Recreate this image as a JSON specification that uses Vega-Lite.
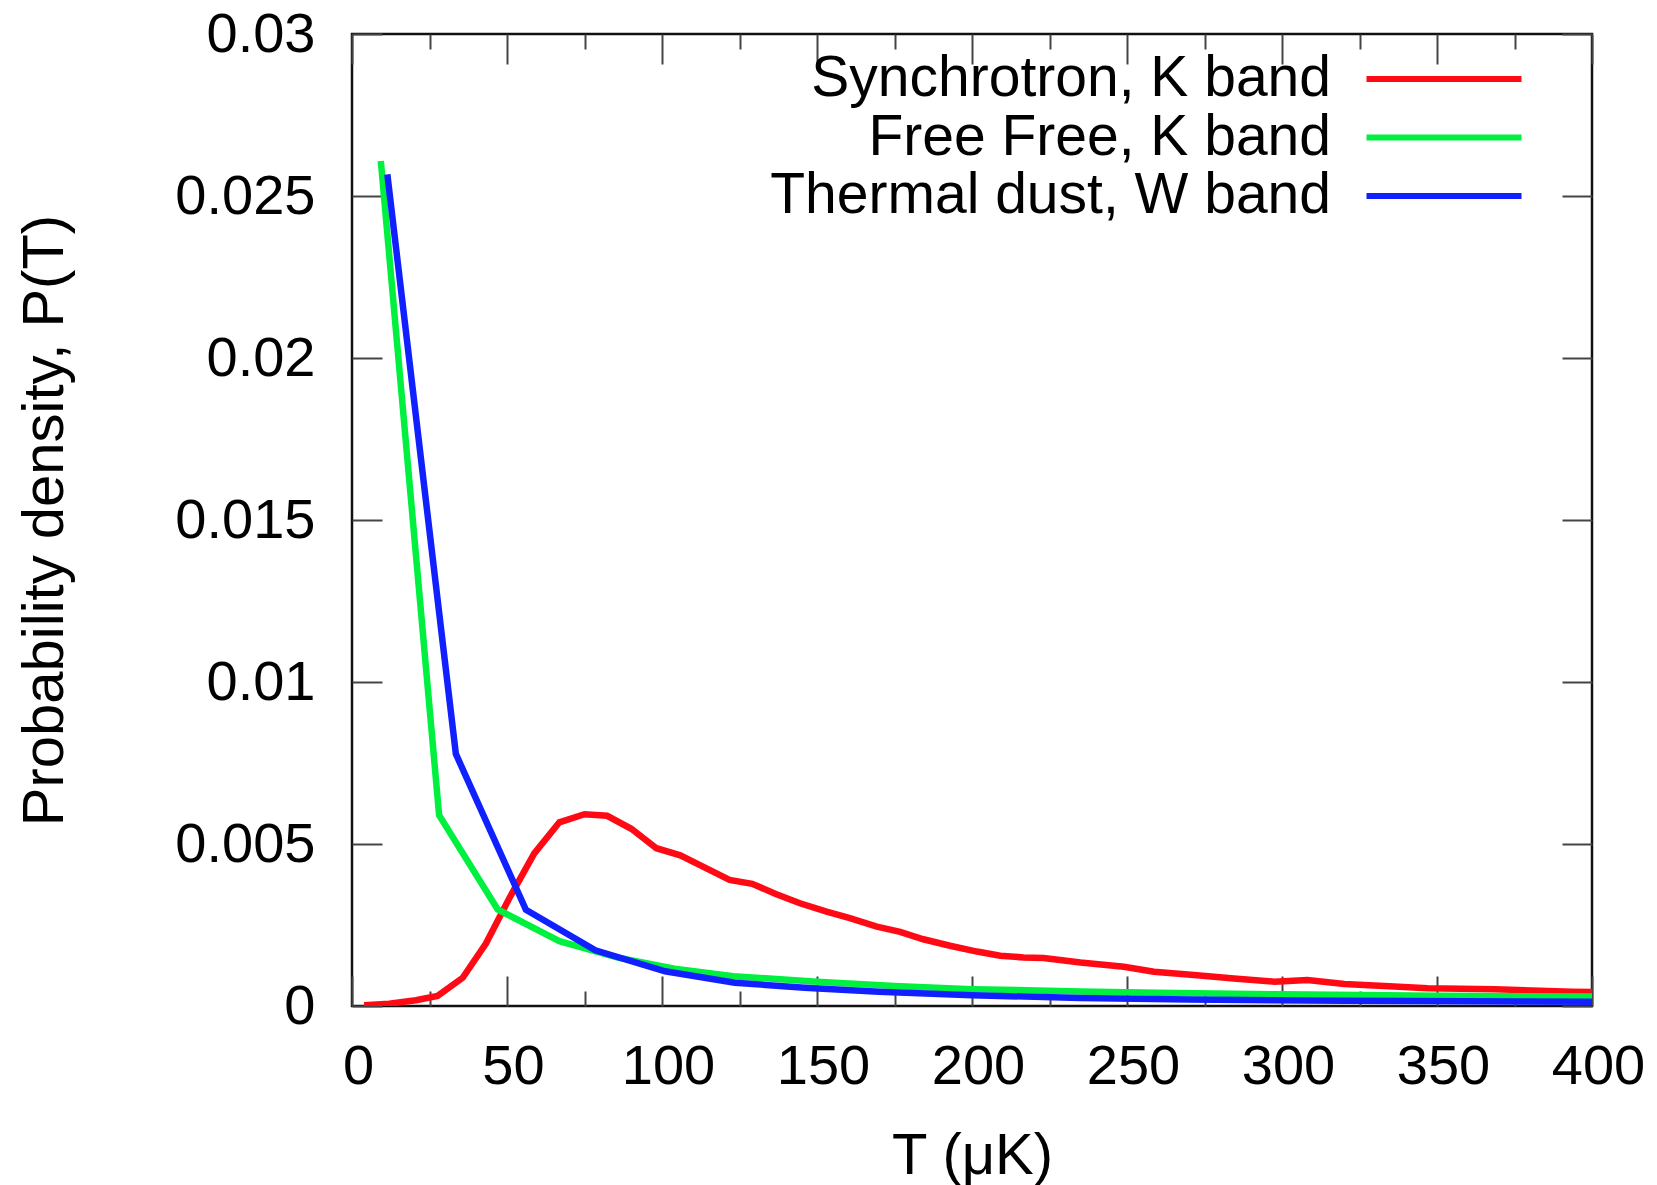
{
  "$schema": "https://vega.github.io/schema/vega-lite/v6.json",
  "width": 1240,
  "height": 972,
  "autosize": {"type": "none"},
  "padding": {"left": 352, "top": 34, "right": 65, "bottom": 179},
  "background": "white",
  "config": {
    "view": {"stroke": "#111111", "strokeWidth": 2.5},
    "font": "Liberation Sans",
    "axis": {
      "domain": false,
      "grid": false,
      "tickColor": "#444444",
      "tickWidth": 2,
      "labelFont": "Liberation Sans",
      "labelFontSize": 56,
      "labelColor": "#000000",
      "titleFont": "Liberation Sans",
      "titleFontSize": 58,
      "titleFontWeight": "normal",
      "titleColor": "#000000"
    },
    "legend": {
      "labelFont": "Liberation Sans",
      "labelFontSize": 57,
      "labelColor": "#000000"
    }
  },
  "data": {
    "values": [
      {"series": "Synchrotron, K band", "T": 3.9, "P": 0.00002},
      {"series": "Synchrotron, K band", "T": 12, "P": 0.00007},
      {"series": "Synchrotron, K band", "T": 20.6, "P": 0.00018},
      {"series": "Synchrotron, K band", "T": 27.6, "P": 0.00031},
      {"series": "Synchrotron, K band", "T": 35.7, "P": 0.00087},
      {"series": "Synchrotron, K band", "T": 43.2, "P": 0.00193},
      {"series": "Synchrotron, K band", "T": 50.7, "P": 0.00332},
      {"series": "Synchrotron, K band", "T": 58.8, "P": 0.00471},
      {"series": "Synchrotron, K band", "T": 66.9, "P": 0.00567},
      {"series": "Synchrotron, K band", "T": 75, "P": 0.00592},
      {"series": "Synchrotron, K band", "T": 82.3, "P": 0.00587},
      {"series": "Synchrotron, K band", "T": 90.1, "P": 0.00547},
      {"series": "Synchrotron, K band", "T": 98.2, "P": 0.00487},
      {"series": "Synchrotron, K band", "T": 105.9, "P": 0.00465},
      {"series": "Synchrotron, K band", "T": 113.7, "P": 0.00428},
      {"series": "Synchrotron, K band", "T": 121.8, "P": 0.00389},
      {"series": "Synchrotron, K band", "T": 129.1, "P": 0.00377},
      {"series": "Synchrotron, K band", "T": 136.9, "P": 0.00345},
      {"series": "Synchrotron, K band", "T": 144.5, "P": 0.00317},
      {"series": "Synchrotron, K band", "T": 153.1, "P": 0.00291},
      {"series": "Synchrotron, K band", "T": 160.6, "P": 0.00271},
      {"series": "Synchrotron, K band", "T": 169.3, "P": 0.00245},
      {"series": "Synchrotron, K band", "T": 176.8, "P": 0.00229},
      {"series": "Synchrotron, K band", "T": 184.3, "P": 0.00206},
      {"series": "Synchrotron, K band", "T": 192.9, "P": 0.00186},
      {"series": "Synchrotron, K band", "T": 201.6, "P": 0.00168},
      {"series": "Synchrotron, K band", "T": 209.1, "P": 0.00155},
      {"series": "Synchrotron, K band", "T": 216.6, "P": 0.0015},
      {"series": "Synchrotron, K band", "T": 223.1, "P": 0.00148},
      {"series": "Synchrotron, K band", "T": 235, "P": 0.00134},
      {"series": "Synchrotron, K band", "T": 249, "P": 0.00121},
      {"series": "Synchrotron, K band", "T": 258.7, "P": 0.00106},
      {"series": "Synchrotron, K band", "T": 271.6, "P": 0.00096},
      {"series": "Synchrotron, K band", "T": 284.5, "P": 0.00085},
      {"series": "Synchrotron, K band", "T": 297.5, "P": 0.00075},
      {"series": "Synchrotron, K band", "T": 308.2, "P": 0.0008},
      {"series": "Synchrotron, K band", "T": 320.1, "P": 0.00068},
      {"series": "Synchrotron, K band", "T": 336.2, "P": 0.0006},
      {"series": "Synchrotron, K band", "T": 347, "P": 0.00055},
      {"series": "Synchrotron, K band", "T": 368.6, "P": 0.00052},
      {"series": "Synchrotron, K band", "T": 393.4, "P": 0.00044},
      {"series": "Synchrotron, K band", "T": 400, "P": 0.00043},
      {"series": "Free Free, K band", "T": 9.3, "P": 0.02608},
      {"series": "Free Free, K band", "T": 28.1, "P": 0.00589},
      {"series": "Free Free, K band", "T": 47.0, "P": 0.00298},
      {"series": "Free Free, K band", "T": 66.9, "P": 0.00200},
      {"series": "Free Free, K band", "T": 85.5, "P": 0.0015},
      {"series": "Free Free, K band", "T": 104, "P": 0.00115},
      {"series": "Free Free, K band", "T": 123, "P": 0.00092},
      {"series": "Free Free, K band", "T": 150, "P": 0.00075},
      {"series": "Free Free, K band", "T": 175, "P": 0.00062},
      {"series": "Free Free, K band", "T": 200, "P": 0.00052},
      {"series": "Free Free, K band", "T": 235, "P": 0.00045},
      {"series": "Free Free, K band", "T": 260, "P": 0.00041},
      {"series": "Free Free, K band", "T": 300, "P": 0.00036},
      {"series": "Free Free, K band", "T": 350, "P": 0.00032},
      {"series": "Free Free, K band", "T": 400, "P": 0.00029},
      {"series": "Thermal dust, W band", "T": 11.4, "P": 0.02567},
      {"series": "Thermal dust, W band", "T": 33.5, "P": 0.00778},
      {"series": "Thermal dust, W band", "T": 56.1, "P": 0.00297},
      {"series": "Thermal dust, W band", "T": 78.5, "P": 0.00172},
      {"series": "Thermal dust, W band", "T": 101, "P": 0.00107},
      {"series": "Thermal dust, W band", "T": 123.5, "P": 0.00072},
      {"series": "Thermal dust, W band", "T": 146, "P": 0.00056},
      {"series": "Thermal dust, W band", "T": 170, "P": 0.00044},
      {"series": "Thermal dust, W band", "T": 200, "P": 0.00033},
      {"series": "Thermal dust, W band", "T": 235, "P": 0.00025},
      {"series": "Thermal dust, W band", "T": 270, "P": 0.0002},
      {"series": "Thermal dust, W band", "T": 320, "P": 0.00016},
      {"series": "Thermal dust, W band", "T": 400, "P": 0.00013}
    ]
  },
  "layer": [
    {
      "transform": [{"filter": "datum.series !== 'Thermal dust, W band'"}],
      "mark": {"type": "line", "strokeWidth": 6.5, "clip": true},
      "encoding": {
        "x": {
          "field": "T",
          "type": "quantitative",
          "scale": {"domain": [0, 400], "nice": false},
          "axis": {
            "orient": "bottom",
            "title": "T (μK)",
            "values": [0, 25, 50, 75, 100, 125, 150, 175, 200, 225, 250, 275, 300, 325, 350, 375, 400],
            "labelExpr": "datum.value % 50 === 0 ? datum.label : ''",
            "format": "d",
            "tickSize": {"condition": {"test": "datum.value % 50 === 0", "value": -30}, "value": -15},
            "labelPadding": 63,
            "labelOffset": 6,
            "labelOverlap": false,
            "labelFlush": false,
            "titleBaseline": "alphabetic",
            "titleY": 167
          }
        },
        "y": {
          "field": "P",
          "type": "quantitative",
          "scale": {"domain": [0, 0.03], "nice": false},
          "axis": {
            "orient": "left",
            "title": "Probability density, P(T)",
            "values": [0, 0.005, 0.01, 0.015, 0.02, 0.025, 0.03],
            "format": ".3~f",
            "tickSize": -30,
            "labelPadding": 67,
            "labelOverlap": false,
            "labelFlush": false,
            "titleBaseline": "alphabetic",
            "titleX": -290
          }
        },
        "color": {
          "field": "series",
          "type": "nominal",
          "scale": {
            "domain": ["Synchrotron, K band", "Free Free, K band", "Thermal dust, W band"],
            "range": ["#ff0a14", "#00f040", "#1020ff"]
          },
          "legend": {
            "title": null,
            "orient": "none",
            "legendX": 1063,
            "legendY": 16,
            "padding": 0,
            "symbolType": "M-3,0H3",
            "symbolSize": 2669,
            "symbolStrokeWidth": 6,
            "labelAlign": "right",
            "labelOffset": -142,
            "labelLimit": 3000,
            "rowPadding": 1.5
          }
        }
      }
    },
    {
      "transform": [{"filter": "datum.series === 'Thermal dust, W band'"}],
      "mark": {"type": "line", "strokeWidth": 6.5, "clip": true},
      "encoding": {
        "x": {
          "field": "T",
          "type": "quantitative",
          "scale": {"domain": [0, 400], "nice": false},
          "axis": {
            "orient": "top",
            "title": null,
            "labels": false,
            "values": [0, 25, 50, 75, 100, 125, 150, 175, 200, 225, 250, 275, 300, 325, 350, 375, 400],
            "tickSize": {"condition": {"test": "datum.value % 50 === 0", "value": -30}, "value": -15}
          }
        },
        "y": {
          "field": "P",
          "type": "quantitative",
          "scale": {"domain": [0, 0.03], "nice": false},
          "axis": {
            "orient": "right",
            "title": null,
            "labels": false,
            "values": [0, 0.005, 0.01, 0.015, 0.02, 0.025, 0.03],
            "tickSize": -30
          }
        },
        "color": {"field": "series", "type": "nominal"}
      }
    }
  ],
  "resolve": {"axis": {"x": "independent", "y": "independent"}}
}
